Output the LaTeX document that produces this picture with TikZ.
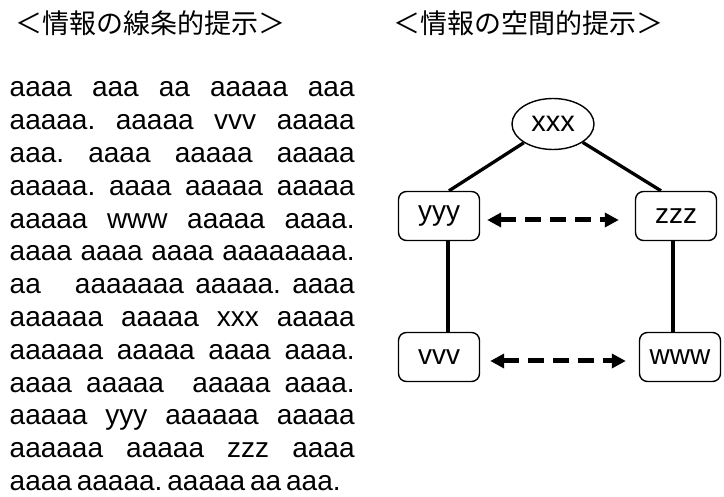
\documentclass[tikz,border=0pt]{standalone}
\usepackage{fontspec}
\setmainfont{Liberation Sans}
\newfontfamily\cjk{Noto Sans CJK JP}
\usetikzlibrary{arrows.meta,shapes.geometric}
\newcommand\jl[1]{\hbox to 345pt{#1}}
\begin{document}
\begin{tikzpicture}[x=1pt,y=-1pt,
  title/.style={font=\cjk\fontsize{27}{27}\selectfont, inner sep=0pt},
  body/.style={font=\fontsize{28}{28}\selectfont, inner sep=0pt, anchor=base west},
  box/.style={draw, rounded corners=8pt, line width=1.4pt, minimum width=81pt, minimum height=49pt, inner sep=0pt, font=\fontsize{28}{28}\selectfont},
  oval/.style={draw, ellipse, line width=1.4pt, minimum width=82pt, minimum height=51pt, inner sep=0pt, font=\fontsize{29}{29}\selectfont},
  link/.style={line width=3.3pt},
  dbl/.style={line width=5pt, dash pattern=on 16pt off 9pt, {Triangle[length=14pt,width=14pt]}-{Triangle[length=14pt,width=14pt]}}
]
\useasboundingbox (0,0) rectangle (724,497);
\node[title] (tl) at (150.5,23.5) {＜情報の線条的提示＞};
\node[title] (tr) at (528.5,23.5) {＜情報の空間的提示＞};

\node[body] (t1) at (9.5,97) {\jl{aaaa\hfill aaa\hfill aa\hfill aaaaa\hfill aaa}};
\node[body] (t2) at (9.5,129.8) {\jl{aaaaa.\hfill aaaaa\hfill vvv\hfill aaaaa}};
\node[body] (t3) at (9.5,162.6) {\jl{aaa.\hfill aaaa\hfill aaaaa\hfill aaaaa}};
\node[body] (t4) at (9.5,195.4) {\jl{aaaaa.\hfill aaaa\hfill aaaaa\hfill aaaaa}};
\node[body] (t5) at (9.5,228.2) {\jl{aaaaa\hfill www\hfill aaaaa\hfill aaaa.}};
\node[body] (t6) at (9.5,261) {\jl{aaaa\hfill aaaa\hfill aaaa\hfill aaaaaaaa.}};
\node[body] (t7) at (9.5,293.8) {\jl{aa\hfill\hfill\hfill aaaaaaa\hfill aaaaa.\hfill aaaa}};
\node[body] (t8) at (9.5,326.6) {\jl{aaaaaa\hfill aaaaa\hfill xxx\hfill aaaaa}};
\node[body] (t9) at (9.5,359.4) {\jl{aaaaaa\hfill aaaaa\hfill aaaa\hfill aaaa.}};
\node[body] (t10) at (9.5,392.2) {\jl{aaaa\hfill aaaaa\hfill\hfill aaaaa\hfill aaaa.}};
\node[body] (t11) at (9.5,425) {\jl{aaaaa\hfill yyy\hfill aaaaaa\hfill aaaaa}};
\node[body] (t12) at (9.5,457.8) {\jl{aaaaaa\hfill aaaaa\hfill zzz\hfill aaaa}};
\node[body] (t13) at (9.5,490.6) {\hbox to 331pt{aaaa\hfill aaaaa.\hfill aaaaa\hfill aa\hfill aaa.}};

\node[oval] (xxx) at (553,124) {xxx};
\node[box] (yyy) at (439,216) {yyy};
\node[box] (zzz) at (676,216) {zzz};
\node[box] (vvv) at (439,357) {vvv};
\node[box] (www) at (680,357) {www};

\draw[link] (xxx) -- ([xshift=10pt]yyy.north);
\draw[link] (xxx) -- ([xshift=-15pt]zzz.north);
\draw[link] ([xshift=9pt]yyy.south) -- ([xshift=9pt]vvv.north);
\draw[link] ([xshift=-3pt]zzz.south) -- ([xshift=-7pt]www.north);

\draw[dbl] ([shift={(7pt,-4pt)}]yyy.east) -- ([shift={(-16pt,-4pt)}]zzz.west);
\draw[dbl] ([shift={(10pt,-4pt)}]vvv.east) -- ([shift={(-13pt,-4pt)}]www.west);
\end{tikzpicture}
\end{document}
